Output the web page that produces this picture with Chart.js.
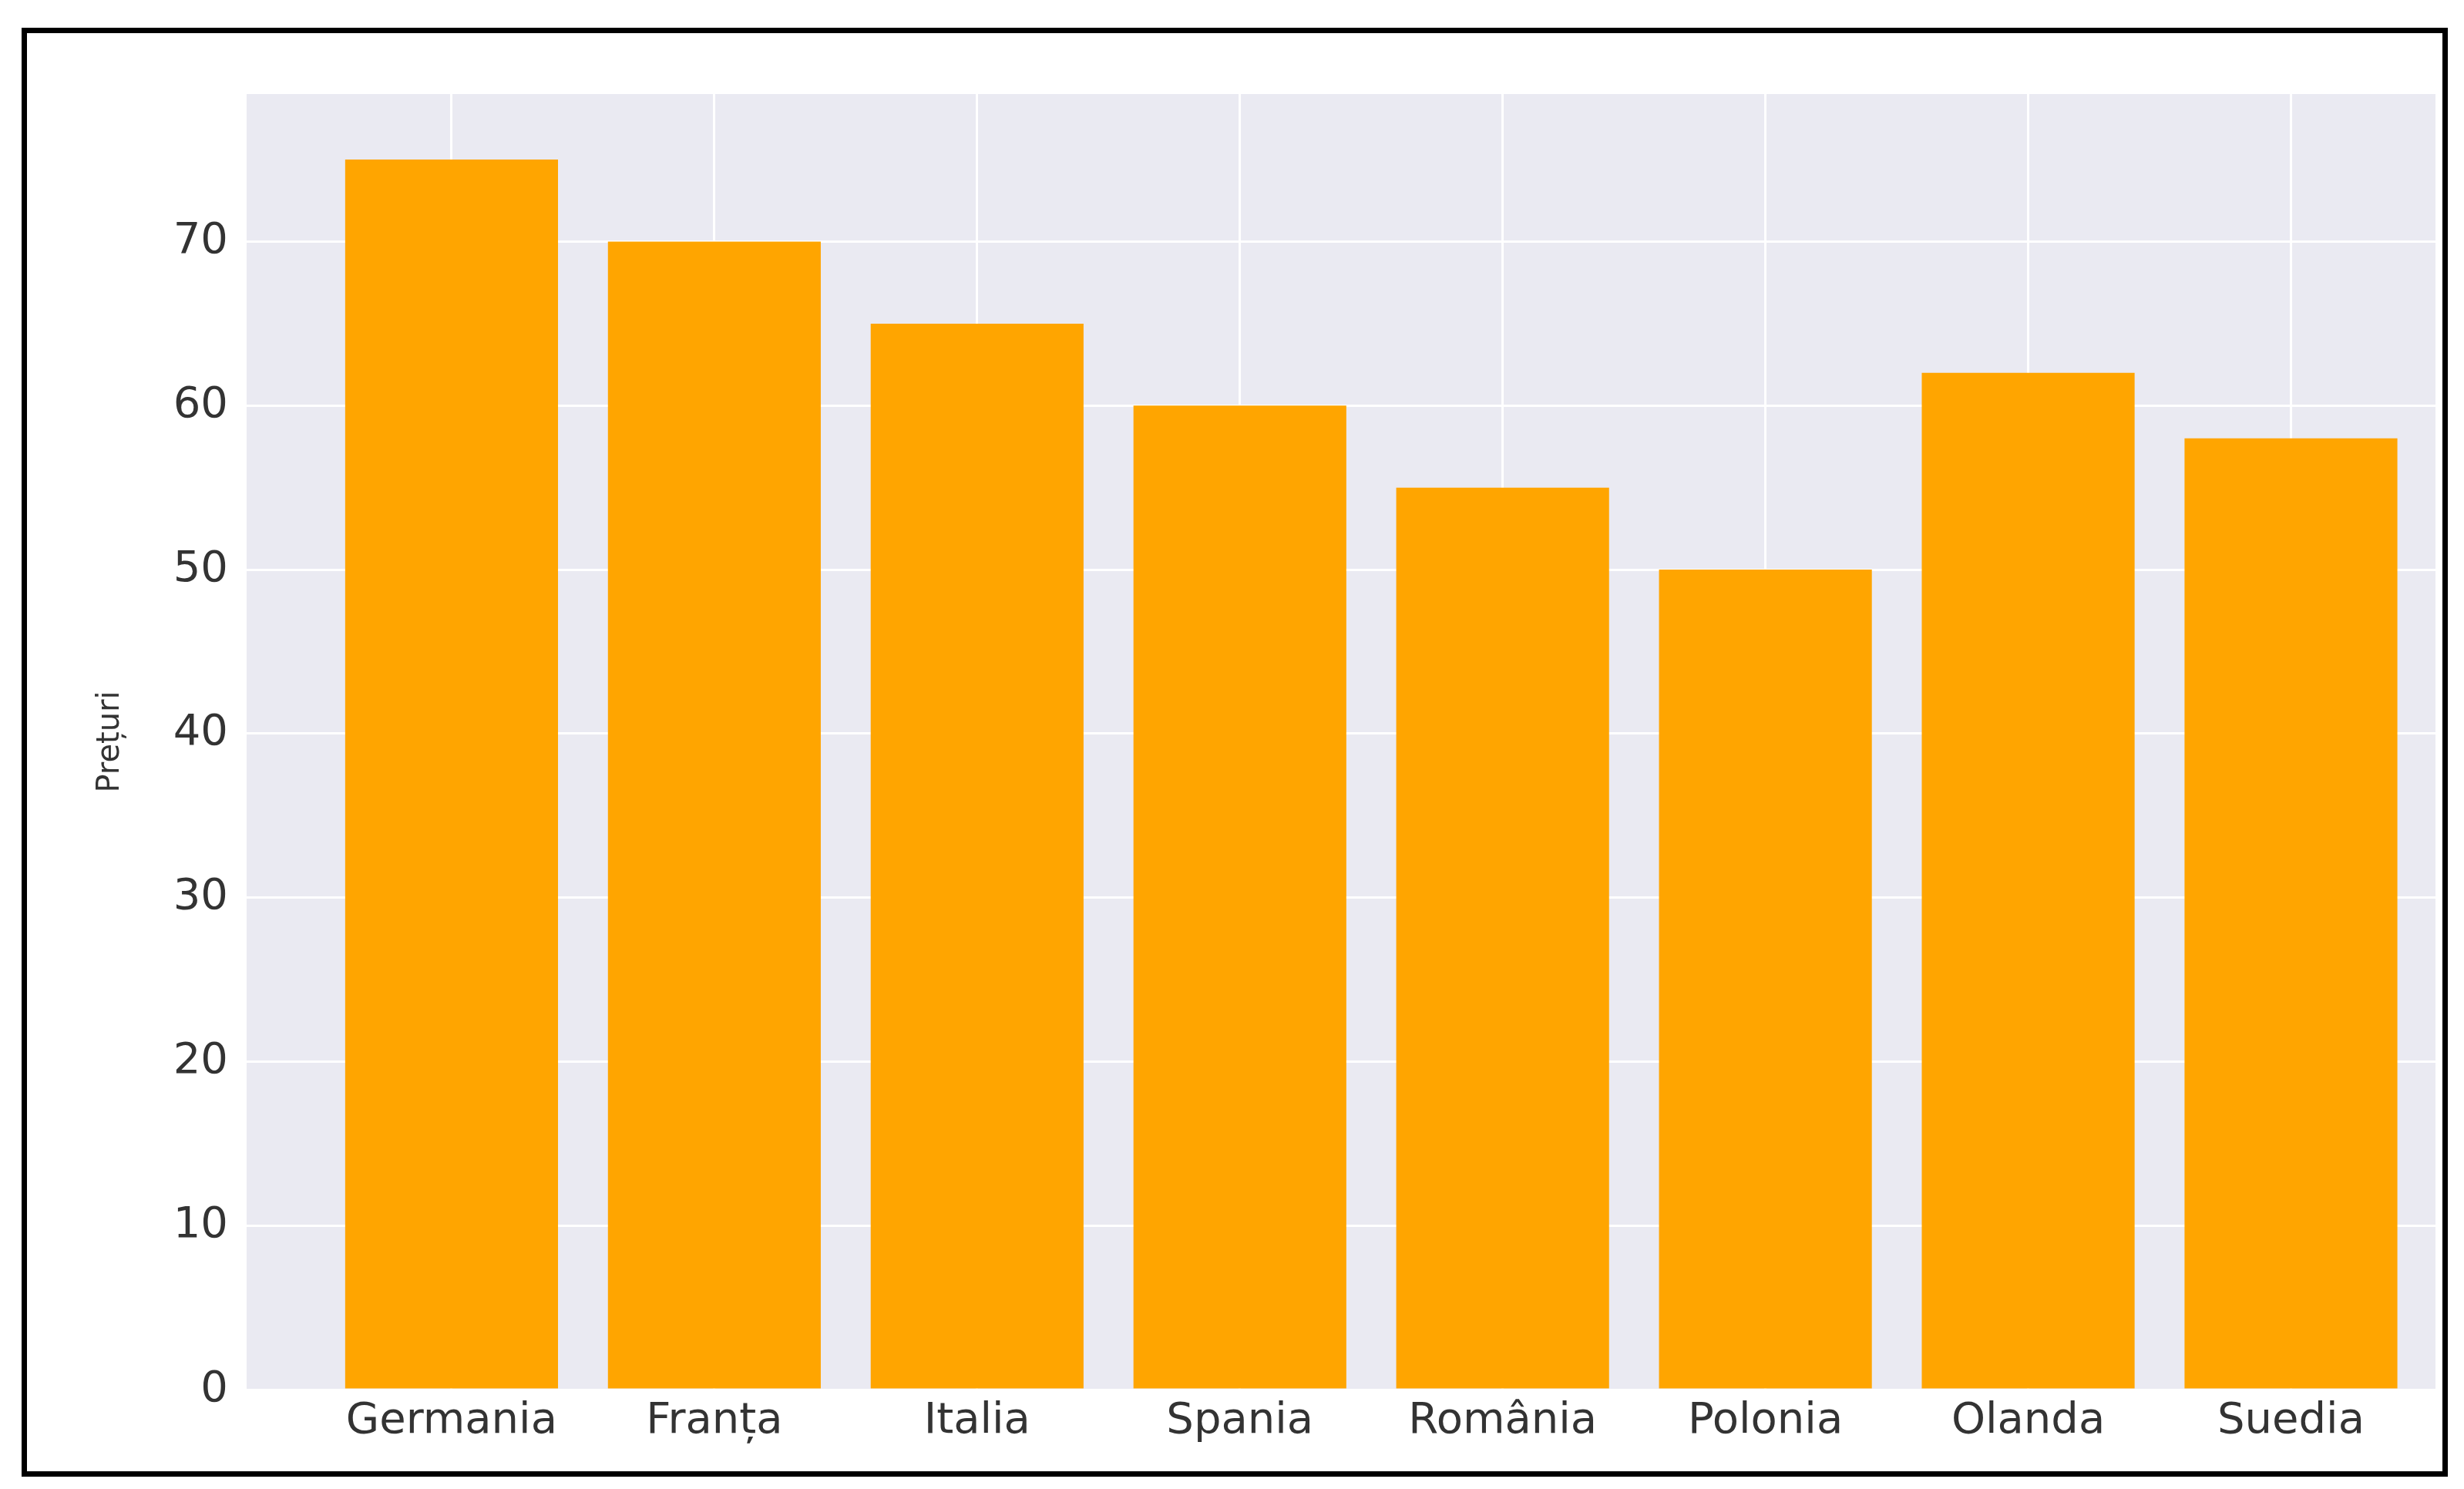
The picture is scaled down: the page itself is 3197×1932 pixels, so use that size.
<!DOCTYPE html>
<html>
<head>
<meta charset="utf-8">
<script src="https://cdn.jsdelivr.net/npm/chart.js@4"></script>
<style>
  body { margin: 0; background: #fff; }
  #wrap { position: absolute; left: 0; top: 0; width: 3197px; height: 1932px; }
  #frame { position: absolute; left: 28px; top: 36px; width: 3134px; height: 1866px; border: 7px solid #000; pointer-events: none; }
</style>
</head>
<body>
<div id="wrap"><canvas id="myChart" width="3197" height="1932"></canvas></div>
<div id="frame"></div>
<script>
const countries = ['Germania', 'Franța', 'Italia', 'Spania', 'România', 'Polonia', 'Olanda', 'Suedia'];
const prices = [75, 70, 65, 60, 55, 50, 62, 58];
const yTicks = [0, 10, 20, 30, 40, 50, 60, 70];

// fond gri-lavanda al zonei graficului
const bgPlugin = {
  id: 'bg',
  beforeDraw(chart) {
    const a = chart.chartArea, c = chart.ctx;
    c.save();
    c.fillStyle = '#eaeaf2';
    c.fillRect(a.left, a.top, a.right - a.left, a.bottom - a.top);
    c.restore();
  }
};

const ctx = document.getElementById('myChart');
new Chart(ctx, {
  type: 'bar',
  data: {
    datasets: [{
      data: countries.map((c, i) => ({ x: i, y: prices[i] })),
      backgroundColor: '#ffa500',
      barPercentage: 0.81,
      categoryPercentage: 1
    }]
  },
  options: {
    responsive: false,
    animation: false,
    layout: { padding: { top: 122, right: 37, left: 120, bottom: 0 } },
    plugins: { legend: { display: false }, tooltip: { enabled: false } },
    scales: {
      x: {
        type: 'linear',
        offset: false,
        min: -0.78,
        max: 7.55,
        afterBuildTicks: s => { s.ticks = countries.map((c, i) => ({ value: i })); },
        afterFit: s => { s.height = 129; },
        ticks: {
          callback: v => countries[v],
          font: { family: 'DejaVu Sans', size: 56 },
          color: '#333',
          padding: 8,
          maxRotation: 0
        },
        grid: { color: '#ffffff', lineWidth: 3, drawTicks: false, offset: false },
        border: { display: false }
      },
      y: {
        min: 0,
        max: 79,
        afterBuildTicks: s => { s.ticks = yTicks.map(v => ({ value: v })); },
        afterFit: s => { s.width = 200; },
        ticks: {
          font: { family: 'DejaVu Sans', size: 56 },
          color: '#333',
          padding: 24
        },
        title: {
          display: true,
          text: 'Prețuri',
          font: { family: 'DejaVu Sans', size: 40 },
          color: '#333',
          padding: 0
        },
        grid: { color: '#ffffff', lineWidth: 3, drawTicks: false },
        border: { display: false }
      }
    }
  },
  plugins: [bgPlugin]
});
</script>
</body>
</html>
